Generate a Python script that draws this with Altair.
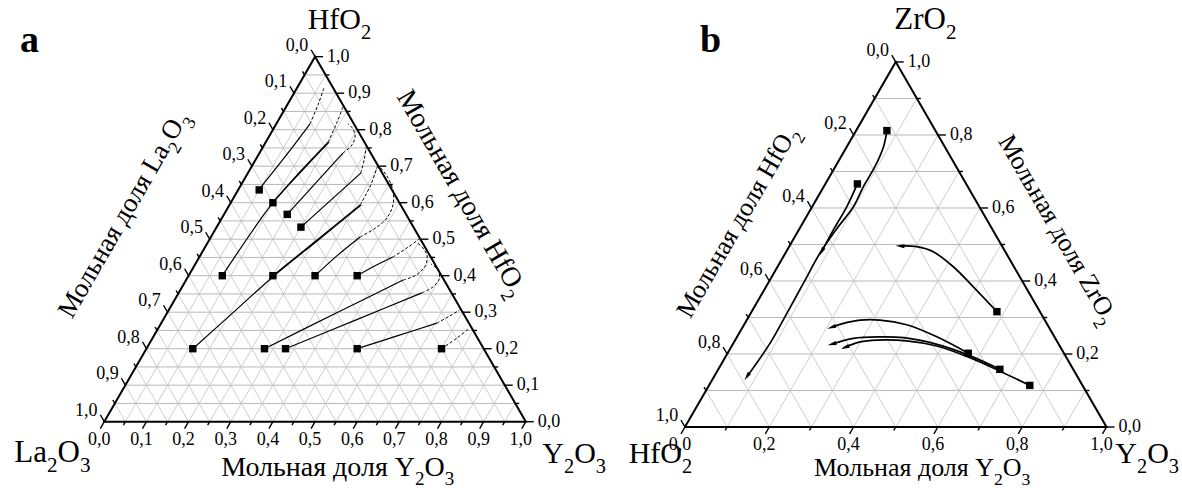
import math
import pandas as pd
import altair as alt

W, HGT = 1182, 489
SIDE = 421.5
R3 = math.sqrt(3) / 2
ORIGIN = {"a": (104.3, 421.7), "b": (685.0, 427.0)}
FONT = "Liberation Serif"


def pt(panel, r, t):
    """Ternary (right-vertex fraction, top-vertex fraction) -> canvas coords (y up)."""
    ox, oy = ORIGIN[panel]
    return ox + (r + t / 2) * SIDE, HGT - (oy - t * R3 * SIDE)


def frac(v):
    return f"{v:.1f}".replace(".", ",")


# ---------------- panel a: La2O3 - Y2O3 - HfO2, points are (Y2O3, HfO2) ----------------
a_start_y2o3 = [0.05, 0.10, 0.15, 0.20, 0.08, 0.20, 0.30, 0.40, 0.11, 0.28, 0.33, 0.50, 0.70]
a_start_hfo2 = [0.635, 0.60, 0.568, 0.533, 0.40, 0.40, 0.40, 0.40, 0.20, 0.20, 0.20, 0.20, 0.20]

a_u1_solid = [(0.049, 0.636), (0.069, 0.744), (0.080, 0.816)]
a_u1_dash = [(0.080, 0.816), (0.073, 0.868), (0.064, 0.914)]
a_u2_solid = [(0.10, 0.60), (0.122, 0.684), (0.148, 0.766)]
a_u2_dash = [(0.148, 0.766), (0.142, 0.821), (0.135, 0.862)]
a_u3_solid = [(0.15, 0.568), (0.198, 0.736)]
a_u3_dash = [(0.198, 0.736), (0.208, 0.755), (0.205, 0.780), (0.189, 0.802), (0.170, 0.816)]
a_u4_solid = [(0.20, 0.533), (0.234, 0.607), (0.268, 0.681)]
a_u4_dash = [(0.268, 0.681), (0.258, 0.717), (0.245, 0.752)]
a_m1_solid = [(0.08, 0.40), (0.10, 0.60), (0.124, 0.684), (0.150, 0.766)]
a_m2_solid = [(0.20, 0.40), (0.257, 0.500), (0.310, 0.594)]
a_m2_dash = [(0.310, 0.594), (0.308, 0.648), (0.298, 0.700)]
a_m3_solid = [(0.30, 0.40), (0.326, 0.457), (0.354, 0.506)]
a_m3_dash = [(0.354, 0.506), (0.376, 0.528), (0.391, 0.555), (0.388, 0.594),
             (0.367, 0.635), (0.334, 0.673), (0.305, 0.698)]
a_m4_solid = [(0.40, 0.40), (0.429, 0.427), (0.459, 0.451)]
a_m4_dash = [(0.459, 0.451), (0.480, 0.476), (0.497, 0.501)]
a_b1_solid = [(0.11, 0.20), (0.158, 0.303), (0.203, 0.40), (0.260, 0.500), (0.313, 0.594)]
a_b2_solid = [(0.28, 0.20), (0.398, 0.295), (0.515, 0.388)]
a_b2_dash = [(0.515, 0.388), (0.539, 0.402), (0.548, 0.427), (0.539, 0.454),
             (0.518, 0.476), (0.497, 0.490)]
a_b3_solid = [(0.33, 0.20), (0.458, 0.279), (0.577, 0.353)]
a_b3_dash = [(0.577, 0.353), (0.595, 0.369), (0.599, 0.391), (0.584, 0.416), (0.559, 0.432)]
a_b4_solid = [(0.50, 0.20), (0.577, 0.235), (0.654, 0.270)]
a_b4_dash = [(0.654, 0.270), (0.675, 0.290), (0.690, 0.306)]
a_b5_dash = [(0.70, 0.20), (0.722, 0.229), (0.738, 0.256)]

a_paths = {
    "u1": (a_u1_solid, a_u1_dash), "u2": (a_u2_solid, a_u2_dash),
    "u3": (a_u3_solid, a_u3_dash), "u4": (a_u4_solid, a_u4_dash),
    "m1": (a_m1_solid, []), "m2": (a_m2_solid, a_m2_dash),
    "m3": (a_m3_solid, a_m3_dash), "m4": (a_m4_solid, a_m4_dash),
    "b1": (a_b1_solid, []), "b2": (a_b2_solid, a_b2_dash),
    "b3": (a_b3_solid, a_b3_dash), "b4": (a_b4_solid, a_b4_dash),
    "b5": ([], a_b5_dash),
}

# ---------------- panel b: HfO2 - Y2O3 - ZrO2, points are (Y2O3, ZrO2) ----------------
b_start_y2o3 = [0.073, 0.076, 0.582, 0.571, 0.668, 0.761]
b_start_zro2 = [0.812, 0.666, 0.316, 0.202, 0.158, 0.114]

b_c1 = [(0.073, 0.812), (0.087, 0.768), (0.094, 0.713), (0.094, 0.658), (0.098, 0.604),
        (0.088, 0.540), (0.082, 0.476), (0.084, 0.394), (0.086, 0.312), (0.087, 0.229),
        (0.078, 0.138)]
b_c2 = [(0.076, 0.666), (0.082, 0.604), (0.082, 0.540), (0.084, 0.480)]
b_c3 = [(0.582, 0.316), (0.492, 0.384), (0.417, 0.439), (0.349, 0.480), (0.303, 0.494),
        (0.262, 0.496)]
b_c4 = [(0.571, 0.202), (0.474, 0.247), (0.386, 0.280), (0.316, 0.293), (0.269, 0.293),
        (0.234, 0.284), (0.211, 0.273)]
b_c5 = [(0.668, 0.158), (0.574, 0.197), (0.475, 0.229), (0.396, 0.245), (0.339, 0.247),
        (0.278, 0.243), (0.235, 0.227)]
b_c6 = [(0.761, 0.114), (0.671, 0.153), (0.581, 0.190), (0.486, 0.222), (0.408, 0.236),
        (0.336, 0.238), (0.299, 0.233), (0.270, 0.218)]
b_curves = {"c1": b_c1, "c2": b_c2, "c3": b_c3, "c4": b_c4, "c5": b_c5, "c6": b_c6}

# ---------------- frame: triangle edges, grid and ticks ----------------
edge_rows, grid_rows, tick_rows = [], [], []
label_rows = {"bottom": [], "left": [], "right": []}

for panel, step, lstep in (("a", 0.05, 0.1), ("b", 0.1, 0.2)):
    corners = [pt(panel, 0, 0), pt(panel, 1, 0), pt(panel, 0, 1)]
    for i in range(3):
        (x1, y1), (x2, y2) = corners[i], corners[(i + 1) % 3]
        edge_rows.append(dict(x=x1, y=y1, x2=x2, y2=y2))
    n = round(1 / step)
    for k in range(1, n):
        t = k * step
        for (p1, p2, kind) in ((pt(panel, 0, t), pt(panel, 1 - t, t), "h"),
                               (pt(panel, t, 0), pt(panel, t, 1 - t), "d"),
                               (pt(panel, 1 - t, 0), pt(panel, 0, 1 - t), "d")):
            grid_rows.append(dict(x=p1[0], y=p1[1], x2=p2[0], y2=p2[1], kind=kind))
    for k in range(0, n + 1):
        v = k * step
        major = abs(v / lstep - round(v / lstep)) < 1e-6
        ln = 8 if major else 4
        # right axis (top component): horizontal ticks pointing outwards
        bx, by = pt(panel, 1 - v, v)
        tick_rows.append(dict(x=bx, y=by, x2=bx + ln, y2=by))
        # left axis (left component)
        bx, by = pt(panel, 0, 1 - v)
        tick_rows.append(dict(x=bx, y=by, x2=bx - 0.5 * ln, y2=by + R3 * ln))
        # bottom axis (right component)
        bx, by = pt(panel, v, 0)
        tick_rows.append(dict(x=bx, y=by, x2=bx - 0.5 * ln, y2=by - R3 * ln))
        if major:
            bx, by = pt(panel, v, 0)
            label_rows["bottom"].append(dict(x=bx - 5, y=by - 18, text=frac(v)))
            bx, by = pt(panel, 0, 1 - v)
            label_rows["left"].append(dict(x=bx - 18, y=by + 11, text=frac(v)))
            bx, by = pt(panel, 1 - v, v)
            label_rows["right"].append(dict(x=bx + 12, y=by, text=frac(v)))

# ---------------- trajectories, squares, arrowheads ----------------
line_rows = []
for name, (solid, dash) in a_paths.items():
    for style, pts in (("solid", solid), ("dash", dash)):
        for i, (r, t) in enumerate(pts):
            x, y = pt("a", r, t)
            line_rows.append(dict(x=x, y=y, id=f"a-{name}-{style}", i=i, style=style, panel="a"))
arrow_rows = []
for name, pts in b_curves.items():
    for i, (r, t) in enumerate(pts):
        x, y = pt("b", r, t)
        line_rows.append(dict(x=x, y=y, id=f"b-{name}", i=i, style="solid", panel="b"))
    (x1, y1), (x2, y2) = pt("b", *pts[-2]), pt("b", *pts[-1])
    ang = math.degrees(math.atan2(x2 - x1, y2 - y1)) % 360
    arrow_rows.append(dict(x=x2, y=y2, angle=ang))

square_rows = [dict(zip(("x", "y"), pt("a", r, t))) for r, t in zip(a_start_y2o3, a_start_hfo2)]
square_rows += [dict(zip(("x", "y"), pt("b", r, t))) for r, t in zip(b_start_y2o3, b_start_zro2)]

# ---------------- text with subscripts ----------------
SUB_SCALE, SUB_DROP = 0.68, 0.33
WIDTHS = {"O": 0.722}


def rich(jx, jy, angle, size, head, tail):
    """head is right-aligned at the join point (pixel coords, y down); tail parts follow it."""
    a = math.radians(angle)
    along = (math.cos(a), -math.sin(a))
    down = (-math.sin(a), -math.cos(a))
    cx, cy = jx, HGT - jy
    rows_head = [dict(x=cx, y=cy, text=head, size=size, angle=angle % 360)]
    rows_tail = []
    for text, sub in tail:
        s = size * SUB_SCALE if sub else size
        ox, oy = (down[0] * SUB_DROP * size, down[1] * SUB_DROP * size) if sub else (0, 0)
        rows_tail.append(dict(x=cx + ox, y=cy + oy, text=text, size=s, angle=angle % 360))
        w = sum(WIDTHS.get(ch, 0.5) for ch in text) * s
        cx += along[0] * w
        cy += along[1] * w
    return rows_head, rows_tail


SUB2 = [("2", True)]
SUB2O3 = [("2", True), ("O", False), ("3", True)]
rich_specs = [
    (361, 29, 0, 30, "HfO", SUB2),
    (47, 462, 0, 31, "La", SUB2O3),
    (564, 463, 0, 30, "Y", SUB2O3),
    (946, 29, 0, 31, "ZrO", SUB2),
    (682, 463, 0, 30, "HfO", SUB2),
    (1137, 463, 0, 30, "Y", SUB2O3),
    (415, 476, 0, 28, "Мольная доля Y", SUB2O3),
    (994, 476, 0, 26, "Мольная доля Y", SUB2O3),
    (170, 150, -60, 27, "Мольная доля La", SUB2O3),
    (508, 290, 60, 28, "Мольная доля HfO", SUB2),
    (794, 140, -60, 26, "Мольная доля HfO", SUB2),
    (1100, 318, 60, 26, "Мольная доля ZrO", SUB2),
]
head_rows, tail_rows = [], []
for spec in rich_specs:
    h, t = rich(*spec)
    head_rows += h
    tail_rows += t

letter_rows = [dict(x=20, y=HGT - 52, text="a"), dict(x=700, y=HGT - 52, text="b")]

# ---------------- chart ----------------
X = alt.X("x:Q", scale=alt.Scale(domain=[0, W], nice=False, zero=False), axis=None)
Y = alt.Y("y:Q", scale=alt.Scale(domain=[0, HGT], nice=False, zero=False), axis=None)


def df(rows):
    return alt.Data(values=rows)


grid = alt.Chart(df(grid_rows)).mark_rule(strokeWidth=0.9).encode(
    X, Y, x2="x2:Q", y2="y2:Q",
    color=alt.Color("kind:N", scale=alt.Scale(domain=["h", "d"], range=["#b0b0b0", "#c8c8c8"]), legend=None),
)
edges = alt.Chart(df(edge_rows)).mark_rule(strokeWidth=2, color="black", strokeCap="square").encode(
    X, Y, x2="x2:Q", y2="y2:Q")
ticks = alt.Chart(df(tick_rows)).mark_rule(strokeWidth=1.4, color="black").encode(
    X, Y, x2="x2:Q", y2="y2:Q")

lines_df = pd.DataFrame(line_rows)
solid_a = alt.Chart(lines_df[(lines_df["style"] == "solid") & (lines_df["panel"] == "a")]).mark_line(
    color="black", strokeWidth=1.2, interpolate="catmull-rom").encode(
    X, Y, detail="id:N", order="i:Q")
solid_b = alt.Chart(lines_df[lines_df["panel"] == "b"]).mark_line(
    color="black", strokeWidth=1.7, interpolate="catmull-rom").encode(
    X, Y, detail="id:N", order="i:Q")
dashed = alt.Chart(lines_df[lines_df["style"] == "dash"]).mark_line(
    color="black", strokeWidth=1.0, strokeDash=[3, 2], interpolate="catmull-rom").encode(
    X, Y, detail="id:N", order="i:Q")
squares = alt.Chart(df(square_rows)).mark_square(size=55, color="black", opacity=1, filled=True).encode(X, Y)
arrows = alt.Chart(df(arrow_rows)).mark_point(
    shape="M0,-1L0.45,1L-0.45,1Z", size=80, filled=True, color="black", opacity=1).encode(
    X, Y, angle=alt.Angle("angle:Q", scale=None))

lab_common = dict(font=FONT, fontSize=18, color="black", baseline="middle")
lab_bottom = alt.Chart(df(label_rows["bottom"])).mark_text(align="center", **lab_common).encode(X, Y, text="text:N")
lab_left = alt.Chart(df(label_rows["left"])).mark_text(align="center", **lab_common).encode(X, Y, text="text:N")
lab_right = alt.Chart(df(label_rows["right"])).mark_text(align="left", **lab_common).encode(X, Y, text="text:N")

txt_head = alt.Chart(df(head_rows)).mark_text(align="right", baseline="alphabetic", font=FONT, color="black").encode(
    X, Y, text="text:N", size=alt.Size("size:Q", scale=None), angle=alt.Angle("angle:Q", scale=None))
txt_tail = alt.Chart(df(tail_rows)).mark_text(align="left", baseline="alphabetic", font=FONT, color="black").encode(
    X, Y, text="text:N", size=alt.Size("size:Q", scale=None), angle=alt.Angle("angle:Q", scale=None))
letters = alt.Chart(df(letter_rows)).mark_text(
    align="left", baseline="alphabetic", font=FONT, fontSize=38, fontWeight="bold", color="black").encode(
    X, Y, text="text:N")

chart = alt.layer(
    grid, edges, ticks, solid_a, solid_b, dashed, squares, arrows,
    lab_bottom, lab_left, lab_right, txt_head, txt_tail, letters,
).properties(
    width=W, height=HGT, autosize=alt.AutoSizeParams(type="none"), padding=0,
).configure_view(stroke=None)

chart.save("out.html", embed_options={"renderer": "svg", "actions": False})
